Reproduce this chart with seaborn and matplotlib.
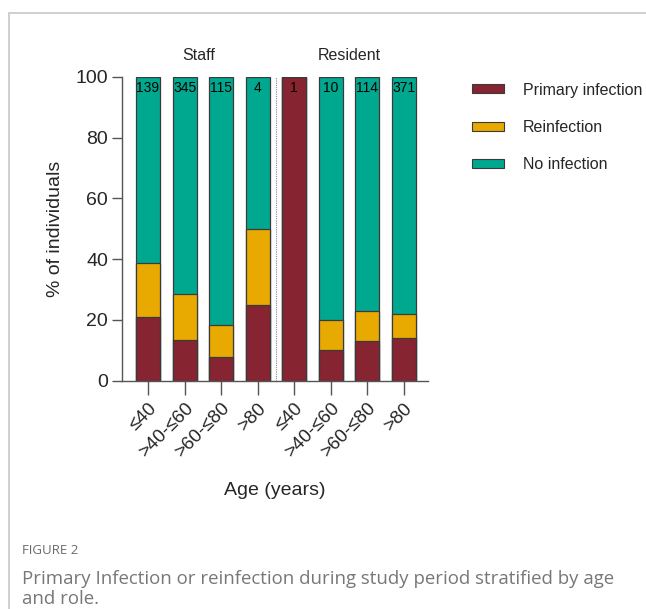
import matplotlib
matplotlib.use("Agg")
import matplotlib.pyplot as plt
from matplotlib.patches import Patch
from matplotlib.lines import Line2D
import numpy as np
import pandas as pd
import seaborn as sns

# Age bands per role (Staff first, then Resident)
roles = ["Staff", "Resident"]
age_bands = ["≤40", ">40-≤60", ">60-≤80", ">80"]
group_sizes = [139, 345, 115, 4, 1, 10, 114, 371]

# Percent of individuals in each outcome
primary_pct = [20.9, 13.3, 7.8, 25.0, 100.0, 10.0, 13.2, 14.0]
reinfection_pct = [18.0, 15.1, 10.4, 25.0, 0.0, 10.0, 9.6, 8.1]
no_infection_pct = [61.1, 71.6, 81.8, 50.0, 0.0, 80.0, 77.2, 77.9]

outcomes = ["Primary infection", "Reinfection", "No infection"]
colors = {"Primary infection": "#862431",
          "Reinfection": "#E8AA00",
          "No infection": "#00A88F"}

sns.set_theme(style="white")
plt.rcParams["font.family"] = ["Liberation Sans", "DejaVu Sans"]

df = pd.DataFrame({
    "pos": np.arange(len(group_sizes)),
    "Primary infection": primary_pct,
    "Reinfection": reinfection_pct,
    "No infection": no_infection_pct,
})
# stacked tops of each segment
df["top_primary"] = df["Primary infection"]
df["top_reinf"] = df["top_primary"] + df["Reinfection"]
df["top_all"] = df["top_reinf"] + df["No infection"]

fig = plt.figure(figsize=(6.46, 6.09), dpi=100)
ax = fig.add_axes([0.1889, 0.3749, 0.4737, 0.4987])

edge = "#3a3a3a"
for col, name in [("top_all", "No infection"),
                  ("top_reinf", "Reinfection"),
                  ("top_primary", "Primary infection")]:
    sns.barplot(data=df, x="pos", y=col, color=colors[name], saturation=1,
                width=0.655, edgecolor=edge, linewidth=0.9, ax=ax,
                errorbar=None)

ax.set_xlim(-0.71, 7.66)
ax.set_ylim(0, 100)
ax.set_yticks([0, 20, 40, 60, 80, 100])
ax.set_xticks(df["pos"])
ax.set_xticklabels(age_bands * 2, rotation=45, ha="right",
                   rotation_mode="anchor", fontsize=13.5)
ax.tick_params(axis="y", labelsize=14, length=7, width=1, color="#555555",
               direction="out", left=True, pad=3)
ax.tick_params(axis="x", length=10, width=1, color="#555555",
               direction="out", bottom=True, pad=4)
for s in ["top", "right"]:
    ax.spines[s].set_visible(False)
for s in ["left", "bottom"]:
    ax.spines[s].set_color("#555555")
    ax.spines[s].set_linewidth(1)

ax.set_ylabel("% of individuals", fontsize=14, labelpad=8)
ax.set_xlabel("Age (years)", fontsize=14, labelpad=15)

# divider between roles
ax.plot([3.5, 3.5], [0, 100], color="#888888", linestyle=(0, (1, 1)),
        linewidth=0.8)

# group sizes at the top of each bar
for p, n in zip(df["pos"], group_sizes):
    ax.text(p, 98.8, str(n), ha="center", va="top", fontsize=10,
            color="black")

# role headers
ax.text(1.38, 107, roles[0], ha="center", va="center", fontsize=11.5,
        clip_on=False)
ax.text(5.5, 107, roles[1], ha="center", va="center", fontsize=11.5,
        clip_on=False)

handles = [Patch(facecolor=colors[o], edgecolor=edge, linewidth=0.8)
           for o in outcomes]
fig.legend(handles, outcomes, loc="upper left",
           bbox_to_anchor=(0.709, 0.888), frameon=False, fontsize=11.5,
           handlelength=2.0, handleheight=0.5, handletextpad=1.15,
           labelspacing=1.4)

# figure frame lines
fig.add_artist(Line2D([9 / 646, 1], [1 - 12.5 / 609] * 2,
                      transform=fig.transFigure, color="#cfcfcf", lw=1.4))
fig.add_artist(Line2D([9 / 646] * 2, [0, 1 - 12.5 / 609],
                      transform=fig.transFigure, color="#cfcfcf", lw=1.4))

# caption
cap_font = ["Open Sans", "DejaVu Sans"]
fig.text(22 / 646, 1 - 554 / 609, "FIGURE 2", fontsize=9.5,
         family=cap_font, color="#6b6b6b", va="baseline")
fig.text(22 / 646, 1 - 584 / 609,
         "Primary Infection or reinfection during study period stratified by age",
         fontsize=13.4, family=cap_font, color="#777777", va="baseline")
fig.text(22 / 646, 1 - 604 / 609, "and role.", fontsize=13.4,
         family=cap_font, color="#777777", va="baseline")

fig.savefig("out.png", dpi=100)
